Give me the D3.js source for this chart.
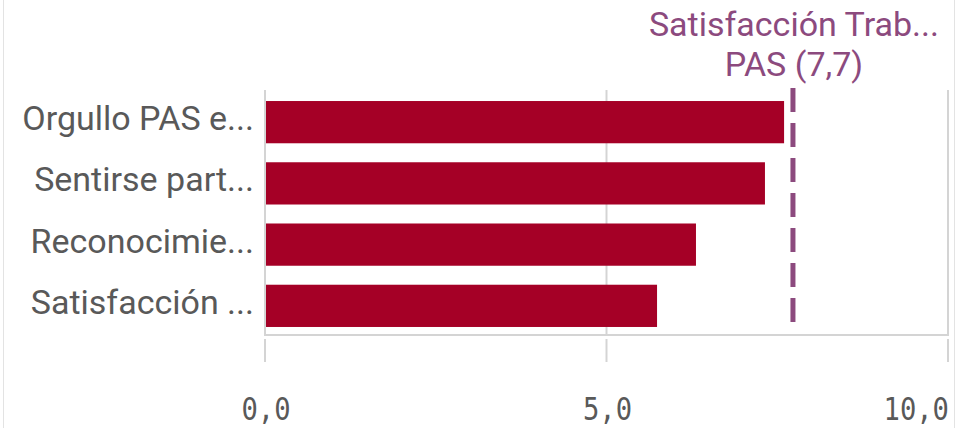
<!DOCTYPE html>
<html>
<head>
<meta charset="utf-8">
<script src="https://cdn.jsdelivr.net/npm/d3@7"></script>
<style>
  html, body { margin: 0; padding: 0; background: #fff; }
  svg { display: block; }
</style>
</head>
<body>
<svg id="chart" width="967" height="428"></svg>
<script>
// ---- data ----
const categories = ["Orgullo PAS e...", "Sentirse part...", "Reconocimie...", "Satisfacción ..."];
const values = [7.60, 7.32, 6.31, 5.74];
const refValue = 7.73;
const refLabel = ["Satisfacción Trab...", "PAS (7,7)"];
const tickValues = [0, 5, 10];
const tickLabels = ["0,0", "5,0", "10,0"];

(function () {
// ---- layout ----
const svg = d3.select("#chart");
const W = 967, H = 428;
const pLeft = 265, pRight = 948, pTop = 90, pBottom = 335;

const x = d3.scaleLinear().domain([0, 10]).range([pLeft, pRight]);
const y = d3.scaleBand().domain(categories).range([pTop, 338]).paddingInner(0.31).paddingOuter(0.18);

const gridColor = "#d4d4d4";

// outer container borders
svg.append("line").attr("x1", 3.5).attr("x2", 3.5).attr("y1", 0).attr("y2", H)
  .attr("stroke", "#e3e3e3").attr("stroke-width", 1);
svg.append("line").attr("x1", 954.5).attr("x2", 954.5).attr("y1", 0).attr("y2", H)
  .attr("stroke", "#e3e3e3").attr("stroke-width", 1);

// vertical gridlines
svg.append("g").selectAll("line").data(tickValues).join("line")
  .attr("x1", d => x(d)).attr("x2", d => x(d))
  .attr("y1", pTop).attr("y2", pBottom)
  .attr("stroke", gridColor).attr("stroke-width", 2);

// bottom frame line
svg.append("line").attr("x1", pLeft - 1).attr("x2", pRight + 1)
  .attr("y1", pBottom).attr("y2", pBottom)
  .attr("stroke", gridColor).attr("stroke-width", 2);

// bars
svg.append("g").selectAll("rect").data(values).join("rect")
  .attr("x", x(0) + 1)
  .attr("y", (d, i) => y(categories[i]))
  .attr("width", d => x(d) - x(0) - 1)
  .attr("height", y.bandwidth())
  .attr("fill", "#a50026");

// reference line
svg.append("line")
  .attr("x1", x(refValue)).attr("x2", x(refValue))
  .attr("y1", 88).attr("y2", 326)
  .attr("stroke", "#8c4a7e").attr("stroke-width", 5)
  .attr("stroke-dasharray", "24,11");

svg.append("g").selectAll("text").data(refLabel).join("text")
  .attr("x", x(refValue) + 1)
  .attr("y", (d, i) => 36 + i * 40)
  .attr("text-anchor", "middle")
  .attr("font-family", "Roboto, 'Noto Sans', sans-serif")
  .attr("font-size", 34)
  .attr("fill", "#8c4a7e")
  .text(d => d);

// y axis labels
svg.append("g").selectAll("text").data(categories).join("text")
  .attr("x", 254)
  .attr("y", d => y(d) + y.bandwidth() / 2 + 8)
  .attr("text-anchor", "end")
  .attr("font-family", "Roboto, 'Noto Sans', sans-serif")
  .attr("font-size", 34)
  .attr("fill", "#595959")
  .text(d => d);

// x axis ticks
svg.append("g").selectAll("line").data(tickValues).join("line")
  .attr("x1", d => x(d)).attr("x2", d => x(d))
  .attr("y1", 339).attr("y2", 362)
  .attr("stroke", gridColor).attr("stroke-width", 2);

// x axis labels
svg.append("g").selectAll("g").data(tickValues).join("g")
  .attr("transform", d => `translate(${x(d) + 1},420) scale(0.85,1)`)
  .append("text")
  .attr("text-anchor", (d, i) => i === tickValues.length - 1 ? "end" : "middle")
  .attr("font-family", "'DejaVu Sans Mono', monospace")
  .attr("font-size", 32)
  .attr("fill", "#595959")
  .text((d, i) => tickLabels[i]);
})();
</script>
</body>
</html>
